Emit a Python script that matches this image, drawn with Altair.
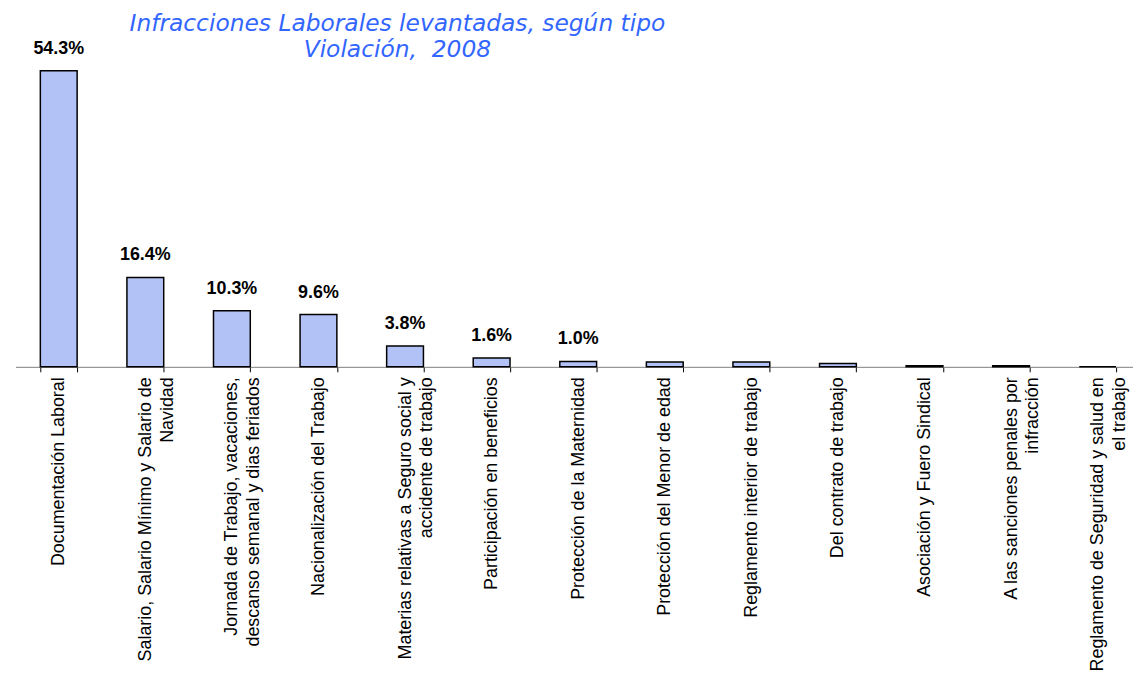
import altair as alt
import pandas as pd

categories = [
    "Documentación Laboral",
    "Salario, Salario Mínimo y Salario de\nNavidad",
    "Jornada de Trabajo, vacaciones,\ndescanso semanal y dias feriados",
    "Nacionalización del Trabajo",
    "Materias relativas a Seguro social y\naccidente de trabajo",
    "Participación en beneficios",
    "Protección de la Maternidad",
    "Protección del Menor de edad",
    "Reglamento interior de trabajo",
    "Del contrato de trabajo",
    "Asociación y Fuero Sindical",
    "A las sanciones penales por\ninfracción",
    "Reglamento de Seguridad y salud en\nel trabajo",
]
values = [54.3, 16.4, 10.3, 9.6, 3.8, 1.6, 1.0, 0.9, 0.9, 0.6, 0.2, 0.2, 0.0]
shown = [True, True, True, True, True, True, True, False, False, False, False, False, False]

df = pd.DataFrame({"cat": categories, "val": values, "shown": shown})
df["lbl"] = [f"{v:.1f}%" for v in values]

x = alt.X(
    "cat:N",
    sort=categories,
    title=None,
    scale=alt.Scale(range=[0, 1133], paddingInner=0.575, paddingOuter=0.2875),
    axis=alt.Axis(
        labelAngle=270,
        labelAlign="right",
        labelBaseline="middle",
        labelPadding=5,
        labelLimit=0,
        labelFont="Liberation Sans",
        labelFontSize=18,
        labelColor="#000000",
        labelLineHeight=22,
        labelExpr="split(datum.label, '\\n')",
        tickBand="extent",
        tickSize=5,
        tickColor="#000000",
        domainColor="#808080",
        labelOverlap=False,
    ),
)
y = alt.Y("val:Q", scale=alt.Scale(domain=[0, 55]), axis=None)

bars = alt.Chart(df).mark_bar(
    fill="#b2c2f7", stroke="#000000", strokeWidth=1.5
).encode(x=x, y=y)

labels = alt.Chart(df).transform_filter("datum.shown").mark_text(
    font="Liberation Sans", fontSize=18, fontWeight="bold", color="#000000",
    baseline="alphabetic", dy=-17
).encode(x=alt.X("cat:N", sort=categories), y="val:Q", text="lbl:N")

chart = alt.layer(bars, labels).properties(
    width=1125,
    height=302,
    autosize=alt.AutoSizeParams(type="none"),
    padding={"left": 7.5, "top": 57, "right": 0, "bottom": 310},
    title=alt.TitleParams(
        text=["Infracciones Laborales levantadas, según tipo", "Violación,\u00a0 2008"],
        anchor="middle",
        dx=-178,
        offset=-22,
        font="DejaVu Sans",
        fontSize=23.5,
        fontStyle="italic",
        fontWeight="normal",
        color="#3366ff",
        lineHeight=26,
    ),
).configure_view(stroke=None)

chart.save("out.html", embed_options={"renderer": "svg", "actions": False})
